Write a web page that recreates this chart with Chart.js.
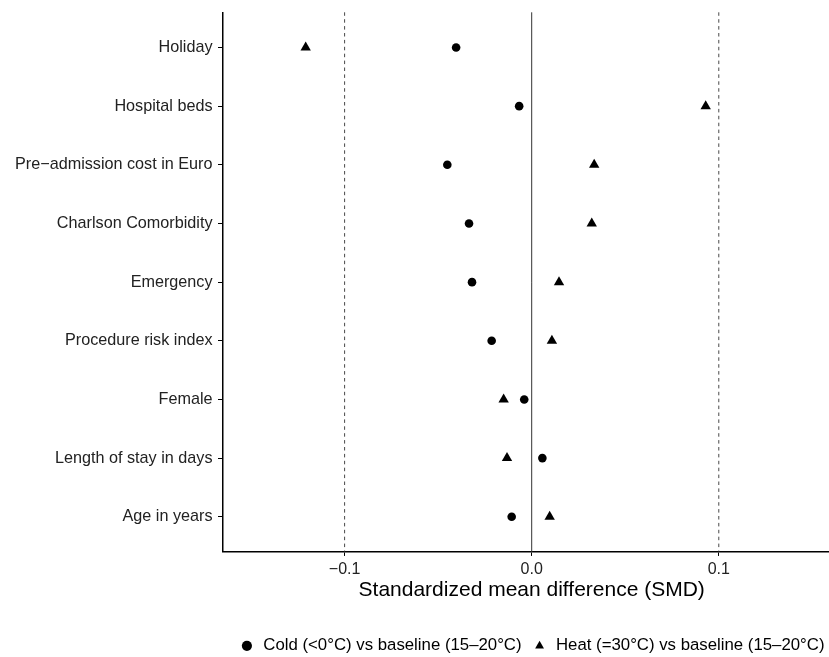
<!DOCTYPE html>
<html>
<head>
<meta charset="utf-8">
<script src="https://cdn.jsdelivr.net/npm/chart.js@4/dist/chart.umd.min.js"></script>
<style>
html,body{margin:0;padding:0;overflow:hidden;background:#fff;width:829px;height:657px}
#wrap{width:848px;height:670px}
canvas{display:block}
</style>
</head>
<body>
<div id="wrap"><canvas id="c" width="848" height="670"></canvas></div>
<script>
// ---- data ----
const categories = ['Holiday', 'Hospital beds', 'Pre\u2212admission cost in Euro', 'Charlson Comorbidity',
  'Emergency', 'Procedure risk index', 'Female', 'Length of stay in days', 'Age in years'];
const coldSMD = [-0.0404, -0.0067, -0.0451, -0.0335, -0.0319, -0.0214, -0.0040, 0.0057, -0.0107];
const heatSMD = [-0.1208, 0.0930, 0.0334, 0.0321, 0.0146, 0.0108, -0.0150, -0.0132, 0.0096];
const seriesLabels = ['Cold (<0\u00B0C) vs baseline (15\u201320\u00B0C)', 'Heat (=30\u00B0C) vs baseline (15\u201320\u00B0C)'];
const xTicks = [-0.1, 0, 0.1];
const xTickLabels = ['\u22120.1', '0.0', '0.1'];
const refLines = [-0.1, 0, 0.1];
const xLimits = [-0.165, 0.165];
const xTitle = 'Standardized mean difference (SMD)';

Chart.defaults.font.family = "'Liberation Sans', Arial, Helvetica, sans-serif";

const refLinePlugin = {
  id: 'refLines',
  beforeDatasetsDraw(chart) {
    const {ctx, chartArea, scales: {x}} = chart;
    ctx.save();
    refLines.forEach(v => {
      const px = x.getPixelForValue(v);
      ctx.beginPath();
      ctx.setLineDash(v === 0 ? [] : [3.5, 3.4]);
      ctx.lineWidth = v === 0 ? 1 : 0.9;
      ctx.strokeStyle = '#333';
      ctx.moveTo(px, chartArea.top);
      ctx.lineTo(px, chartArea.bottom);
      ctx.stroke();
    });
    ctx.restore();
  }
};

new Chart(document.getElementById('c'), {
  type: 'scatter',
  data: {
    datasets: [
      {
        label: seriesLabels[0],
        data: categories.map((c, i) => ({x: coldSMD[i], y: i})),
        pointStyle: 'circle',
        pointRadius: 4.3,
        pointHoverRadius: 4.3,
        pointBorderWidth: 0,
        backgroundColor: '#000',
        borderColor: '#000'
      },
      {
        label: seriesLabels[1],
        data: categories.map((c, i) => ({x: heatSMD[i], y: i})),
        pointStyle: 'triangle',
        pointRadius: 6,
        pointHoverRadius: 6,
        pointBorderWidth: 0,
        backgroundColor: '#000',
        borderColor: '#000'
      }
    ]
  },
  options: {
    responsive: false,
    animation: false,
    events: [],
    layout: {padding: {top: 12.3, right: 7.6, bottom: 5.75, left: 0}},
    plugins: {
      tooltip: {enabled: false},
      legend: {
        position: 'bottom',
        fullSize: false,
        labels: {
          usePointStyle: true,
          boxWidth: 16,
          boxHeight: 7.2,
          padding: 10,
          color: '#000',
          font: {size: 16.8}
        }
      }
    },
    scales: {
      x: {
        type: 'linear',
        min: xLimits[0],
        max: xLimits[1],
        afterBuildTicks: s => { s.ticks = xTicks.map(v => ({value: v})); },
        afterFit: s => { s.height = 75.5; s.paddingLeft = 0; s.paddingRight = 0; },
        ticks: {
          color: '#222',
          font: {size: 16},
          padding: 4,
          autoSkip: false,
          maxRotation: 0,
          callback: (v, i) => xTickLabels[i]
        },
        grid: {drawOnChartArea: false, drawTicks: true, tickLength: 4, tickColor: '#000', tickWidth: 1},
        border: {display: true, color: '#000', width: 1.5},
        title: {display: true, text: xTitle, color: '#000', font: {size: 21}, padding: {top: 0, bottom: 24.5}}
      },
      y: {
        type: 'linear',
        reverse: true,
        min: -0.6,
        max: categories.length - 0.4,
        afterBuildTicks: s => { s.ticks = categories.map((c, i) => ({value: i})); },
        afterFit: s => { s.width = 223; s.paddingTop = 0; s.paddingBottom = 0; },
        ticks: {
          color: '#222',
          font: {size: 16.2},
          padding: 5.5,
          autoSkip: false,
          callback: v => categories[v]
        },
        grid: {drawOnChartArea: false, drawTicks: true, tickLength: 5, tickColor: '#000', tickWidth: 1},
        border: {display: true, color: '#000', width: 1.5}
      }
    }
  },
  plugins: [refLinePlugin]
});
</script>
</body>
</html>
